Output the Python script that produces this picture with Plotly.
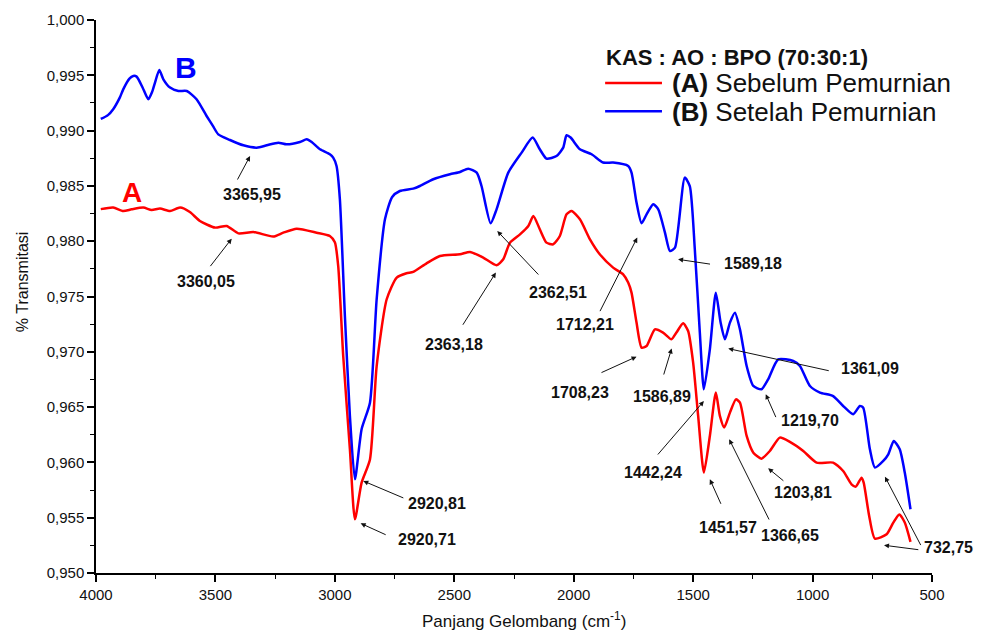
import plotly.graph_objects as go

# ---------------- data ----------------
wn_B = [3980, 3950, 3928, 3900, 3886, 3860, 3844, 3830, 3805, 3781, 3765, 3753, 3735, 3718,
        3690, 3655, 3620, 3579, 3537, 3510, 3488, 3439, 3383, 3327, 3285, 3237, 3202, 3146,
        3118, 3097, 3062, 3021, 3007, 2993, 2979, 2958, 2937, 2916, 2888, 2853, 2825, 2790,
        2760, 2728, 2672, 2644, 2588, 2518, 2476, 2442, 2406, 2386, 2348, 2323, 2274, 2218,
        2172, 2142, 2114, 2072, 2044, 2030, 2013, 1974, 1925, 1877, 1835, 1772, 1758, 1737,
        1716, 1695, 1667, 1646, 1618, 1597, 1576, 1535, 1514, 1493, 1472, 1455, 1430, 1405,
        1385, 1367, 1346, 1325, 1304, 1276, 1248, 1214, 1186, 1144, 1081, 1053, 1011, 969,
        914, 872, 830, 802, 788, 760, 739, 704, 683, 660, 635, 614, 590]
tr_B = [0.99105, 0.99140, 0.99193, 0.99300, 0.99373, 0.99470, 0.99494, 0.99488, 0.99390, 0.99283,
        0.99350, 0.99434, 0.99548, 0.99464, 0.99389, 0.99358, 0.99358, 0.99283, 0.99132, 0.99040,
        0.98966, 0.98915, 0.98867, 0.98846, 0.98867, 0.98891, 0.98876, 0.98897, 0.98921, 0.98897,
        0.98831, 0.98786, 0.98756, 0.98680, 0.98380, 0.97324, 0.96420, 0.95847, 0.96300, 0.96540,
        0.97475, 0.98200, 0.98400, 0.98454, 0.98475, 0.98499, 0.98560, 0.98605, 0.98626, 0.98656,
        0.98620, 0.98499, 0.98162, 0.98288, 0.98620, 0.98801, 0.98937, 0.98831, 0.98747, 0.98770,
        0.98846, 0.98958, 0.98937, 0.98831, 0.98786, 0.98711, 0.98711, 0.98680, 0.98620, 0.98349,
        0.98162, 0.98243, 0.98334, 0.98288, 0.98078, 0.97911, 0.97942, 0.98575, 0.98499, 0.97927,
        0.97174, 0.96661, 0.97022, 0.97535, 0.97264, 0.97113, 0.97264, 0.97354, 0.97203, 0.96872,
        0.96691, 0.96661, 0.96751, 0.96932, 0.96917, 0.96872, 0.96691, 0.96631, 0.96600, 0.96510,
        0.96435, 0.96510, 0.96495, 0.96118, 0.95953, 0.96013, 0.96073, 0.96194, 0.96118, 0.95908,
        0.95576]

wn_A = [3980, 3928, 3886, 3851, 3802, 3767, 3732, 3690, 3648, 3607, 3565, 3502, 3453, 3404,
        3341, 3258, 3216, 3160, 3076, 3021, 3000, 2986, 2965, 2937, 2916, 2888, 2853, 2825,
        2783, 2741, 2700, 2672, 2616, 2560, 2476, 2434, 2379, 2323, 2295, 2267, 2225, 2190,
        2169, 2142, 2114, 2086, 2058, 2030, 2009, 1974, 1932, 1891, 1835, 1793, 1772, 1758,
        1737, 1716, 1695, 1660, 1626, 1591, 1570, 1542, 1521, 1500, 1479, 1455, 1430, 1405,
        1388, 1370, 1346, 1321, 1304, 1276, 1248, 1214, 1179, 1137, 1095, 1039, 983, 914,
        872, 837, 819, 795, 786, 763, 739, 690, 662, 637, 614, 590]
tr_A = [0.98290, 0.98304, 0.98273, 0.98288, 0.98304, 0.98282, 0.98295, 0.98273, 0.98304, 0.98264,
        0.98183, 0.98123, 0.98138, 0.98071, 0.98083, 0.98042, 0.98077, 0.98113, 0.98077, 0.98047,
        0.97990, 0.97776, 0.96962, 0.96118, 0.95485, 0.95817, 0.96027, 0.96871, 0.97475, 0.97671,
        0.97710, 0.97722, 0.97800, 0.97866, 0.97882, 0.97903, 0.97852, 0.97782, 0.97836, 0.97987,
        0.98062, 0.98138, 0.98228, 0.98108, 0.97987, 0.97972, 0.98047, 0.98243, 0.98273, 0.98198,
        0.98017, 0.97882, 0.97761, 0.97700, 0.97626, 0.97535, 0.97264, 0.97038, 0.97052, 0.97203,
        0.97174, 0.97113, 0.97174, 0.97258, 0.97188, 0.96902, 0.96420, 0.95908, 0.96239, 0.96631,
        0.96420, 0.96315, 0.96450, 0.96570, 0.96540, 0.96239, 0.96088, 0.96034, 0.96103, 0.96224,
        0.96185, 0.96103, 0.95998, 0.95998, 0.95922, 0.95802, 0.95781, 0.95862, 0.95817, 0.95516,
        0.95311, 0.95350, 0.95456, 0.95530, 0.95456, 0.95281]

# peak labels: text, arrow head (x, y), arrow tail (x, y), text position (x, y)
peak_labels = ["3365,95", "3360,05", "2920,81", "2920,71", "2362,51", "2363,18", "1712,21",
               "1589,18", "1708,23", "1586,89", "1442,24", "1361,09", "1219,70", "1203,81",
               "1451,57", "1366,65"]
head_x = [3355, 3432, 2881, 2892, 2320, 2326, 1734, 1563, 1737, 1590, 1455, 1353, 1196, 1186, 1430, 1349]
head_y = [0.98770, 0.98023, 0.95832, 0.95449, 0.98092, 0.97716, 0.98033, 0.97836, 0.96956, 0.97030,
          0.96555, 0.97029, 0.96616, 0.95947, 0.95847, 0.96209]
tail_x = [3411, 3526, 2707, 2781, 2142, 2468, 1893, 1423, 1890, 1625, 1653, 926, 1151, 1116, 1381, 1179]
tail_y = [0.98544, 0.97761, 0.95673, 0.95340, 0.97685, 0.97231, 0.97354, 0.97791, 0.96806, 0.96781,
          0.96058, 0.96826, 0.96396, 0.95823, 0.95612, 0.95470]
text_x = [3348, 3540, 2571, 2616, 2065, 2501, 1953, 1248, 1974, 1632, 1667, 760, 1009, 1039, 1353, 1095]
text_y = [0.98424, 0.97640, 0.95630, 0.95305, 0.97535, 0.97067, 0.97245, 0.97797, 0.96634, 0.96595,
          0.95913, 0.96851, 0.96383, 0.95727, 0.95410, 0.95335]

# the 732,75 label has two arrows (to curve B and to curve A)
label_732 = "732,75"
head732_x = [697, 701]
head732_y = [0.95871, 0.95251]
tail732_x = [544, 551]
tail732_y = [0.95239, 0.95209]

y_ticks = [0.950, 0.955, 0.960, 0.965, 0.970, 0.975, 0.980, 0.985, 0.990, 0.995, 1.000]
x_ticks = [4000, 3500, 3000, 2500, 2000, 1500, 1000, 500]

FONT = "Liberation Sans, Arial, sans-serif"
RED = "#ff0000"
BLUE = "#0000ff"

fig = go.Figure()
fig.add_trace(go.Scatter(x=wn_A, y=tr_A, mode="lines", name="(A) Sebelum Pemurnian",
                         line=dict(color=RED, width=2.5, shape="spline", smoothing=0.6), showlegend=False))
fig.add_trace(go.Scatter(x=wn_B, y=tr_B, mode="lines", name="(B) Setelah Pemurnian",
                         line=dict(color=BLUE, width=2.5, shape="spline", smoothing=0.6), showlegend=False))

annotations = []
arrow_style = dict(showarrow=True, arrowhead=2, arrowsize=1, arrowwidth=1, arrowcolor="#111",
                   axref="x", ayref="y", xref="x", yref="y", text="", standoff=0)
lab_font = dict(family=FONT, size=16, color="#111", weight="bold")

for i, t in enumerate(peak_labels):
    annotations.append(dict(x=head_x[i], y=head_y[i], ax=tail_x[i], ay=tail_y[i], **arrow_style))
    annotations.append(dict(x=text_x[i], y=text_y[i], text=t, showarrow=False, xref="x", yref="y",
                            font=lab_font, xanchor="center", yanchor="middle"))
for i in range(2):
    annotations.append(dict(x=head732_x[i], y=head732_y[i], ax=tail732_x[i], ay=tail732_y[i], **arrow_style))
annotations.append(dict(x=500, y=0.95230, text=label_732, showarrow=False, xref="x", yref="y",
                        font=lab_font, xanchor="left", yanchor="middle", xshift=-10))

# curve letters
annotations.append(dict(x=3623, y=0.99572, text="B", showarrow=False, xref="x", yref="y",
                        font=dict(family=FONT, size=30, color=BLUE, weight="bold")))
annotations.append(dict(x=3849, y=0.98441, text="A", showarrow=False, xref="x", yref="y",
                        font=dict(family=FONT, size=28, color=RED, weight="bold")))

# axis titles
annotations.append(dict(x=-0.0885, y=0.526, xref="paper", yref="paper", text="% Transmitasi",
                        textangle=-90, showarrow=False, xanchor="center", yanchor="middle",
                        font=dict(family=FONT, size=16, color="#111")))
annotations.append(dict(x=0.512, y=-0.1085, xref="paper", yref="paper",
                        text="Panjang Gelombang (cm<sup>-1</sup>)", showarrow=False,
                        xanchor="center", yanchor="bottom",
                        font=dict(family=FONT, size=17, color="#111")))

# legend (drawn manually)
annotations.append(dict(x=0.608, y=0.933, xref="paper", yref="paper", text="KAS : AO : BPO (70:30:1)",
                        showarrow=False, xanchor="left", yanchor="middle",
                        font=dict(family=FONT, size=22, color="#111", weight="bold")))
annotations.append(dict(x=0.687, y=0.886, xref="paper", yref="paper",
                        text="<b>(A)</b> Sebelum Pemurnian", showarrow=False, xanchor="left", yanchor="middle",
                        font=dict(family=FONT, size=26, color="#111")))
annotations.append(dict(x=0.687, y=0.834, xref="paper", yref="paper",
                        text="<b>(B)</b> Setelah Pemurnian", showarrow=False, xanchor="left", yanchor="middle",
                        font=dict(family=FONT, size=26, color="#111")))
shapes = [
    dict(type="line", xref="paper", yref="paper", x0=0.609, x1=0.677, y0=0.886, y1=0.886,
         line=dict(color=RED, width=2.5)),
    dict(type="line", xref="paper", yref="paper", x0=0.609, x1=0.677, y0=0.835, y1=0.835,
         line=dict(color=BLUE, width=2.5)),
]

# the page adds an 8px body margin, so the figure is 8px smaller and shifted margins compensate
fig.update_layout(
    width=976, height=627,
    margin=dict(l=88, r=52, t=12, b=62),
    paper_bgcolor="white", plot_bgcolor="white",
    separators=",.",
    annotations=annotations, shapes=shapes,
    showlegend=False,
    font=dict(family=FONT, color="#111"),
)
fig.update_xaxes(range=[4000, 500], tickvals=x_ticks, ticktext=[str(v) for v in x_ticks],
                 automargin=False,
                 showgrid=False, zeroline=False, showline=True, linecolor="black", linewidth=1.5,
                 ticks="outside", ticklen=7, tickwidth=1.5, tickcolor="black",
                 tickfont=dict(family=FONT, size=15, color="#111"),
                 minor=dict(ticks="outside", ticklen=4, tickwidth=1.2, tickcolor="black", dtick=250, tick0=500))
fig.update_yaxes(range=[0.950, 1.000], tickvals=y_ticks, tickformat=".3f",
                 automargin=False,
                 showgrid=False, zeroline=False, showline=True, linecolor="black", linewidth=1.5,
                 ticks="outside", ticklen=7, tickwidth=1.5, tickcolor="black",
                 tickfont=dict(family=FONT, size=15, color="#111"),
                 minor=dict(ticks="outside", ticklen=4, tickwidth=1.2, tickcolor="black", dtick=0.0025, tick0=0.95))

fig.write_html("out.html")
